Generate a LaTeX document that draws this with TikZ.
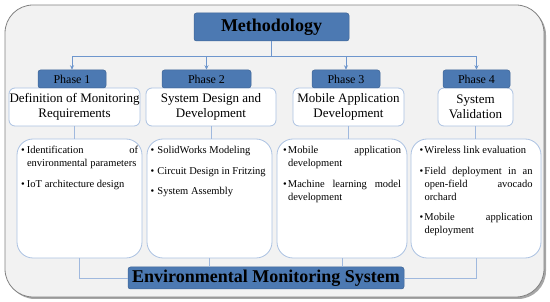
\documentclass[tikz,border=0pt]{standalone}
\usepackage{fontspec}
\setmainfont{Liberation Serif}
\usetikzlibrary{arrows.meta}
\definecolor{bluefill}{RGB}{76,121,178}
\definecolor{conn}{RGB}{110,150,205}
\definecolor{lightb}{RGB}{172,194,226}
\definecolor{outerfill}{RGB}{242,242,242}
\definecolor{outerdraw}{RGB}{130,130,130}
\newcommand{\bitem}[2]{\par\hangindent=#1\hangafter=1\noindent\makebox[#1][l]{\textbullet}#2}
\newcommand{\cbody}[2]{\parbox[c][104pt][t]{#1}{\fontsize{10.5}{13}\selectfont\hyphenpenalty=10000\exhyphenpenalty=10000\tolerance=9999\parskip=7.5pt\relax #2}}
\begin{document}
\begin{tikzpicture}[x=1pt,y=-1pt,
  bluebox/.style={draw=bluefill!85!black, line width=0.5pt, fill=bluefill, rounded corners=2.5pt, inner sep=0pt, text=black},
  titlebox/.style={draw=lightb, line width=0.8pt, fill=white, rounded corners=6pt, inner sep=0pt, align=center, font=\fontsize{13}{15}\selectfont},
  cbox/.style={draw=lightb, line width=0.8pt, fill=white, rounded corners=16pt, inner sep=0pt, align=justify},
  conline/.style={draw=conn, line width=0.9pt},
  lowline/.style={draw=lightb!80!conn, line width=0.9pt},
  arr/.style={conline, -{Stealth[length=4.5pt,width=4pt]}}
]
\useasboundingbox (0,0) rectangle (550,302);
% outer frame with shadow
\fill[black!35, rounded corners=28pt] (7,7) rectangle (546,299);
\draw[draw=outerdraw, fill=outerfill, line width=0.8pt, rounded corners=28pt] (5,5) rectangle (544,297);

% methodology
\node[bluebox, minimum width=155, minimum height=28, font=\fontsize{18}{20}\selectfont\bfseries] (meth) at (271.5,27) {Methodology};
\coordinate (bus) at (271.5,56);

% title boxes
\node[titlebox, minimum width=131, minimum height=38] (t1) at (74.5,107) {Definition of Monitoring\\Requirements};
\node[titlebox, minimum width=130, minimum height=38] (t2) at (211,107) {System Design and\\Development};
\node[titlebox, minimum width=111, minimum height=38] (t3) at (348.5,107) {Mobile Application\\Development};
\node[titlebox, minimum width=75, minimum height=38] (t4) at (475.5,107) {System\\Validation};

% phase boxes
\node[bluebox, minimum width=68, minimum height=18, font=\fontsize{12}{14}\selectfont] (p1) at (72,79) {Phase 1};
\node[bluebox, minimum width=89, minimum height=18, font=\fontsize{12}{14}\selectfont] (p2) at (206.5,79) {Phase 2};
\node[bluebox, minimum width=68, minimum height=18, font=\fontsize{12}{14}\selectfont] (p3) at (346,79) {Phase 3};
\node[bluebox, minimum width=67, minimum height=18, font=\fontsize{12}{14}\selectfont] (p4) at (476.5,79) {Phase 4};

% connectors from methodology
\draw[conline] (meth.south) -- (bus);
\draw[arr] (bus) -| (p1.north);
\draw[arr] (bus) -| (p2.north);
\draw[arr] (bus) -| (p3.north);
\draw[arr] (bus) -| (p4.north);

% content boxes
\node[cbox, minimum width=125, minimum height=119] (c1) at (79.5,198.5) {\cbody{117pt}{%
\bitem{6pt}{Identification of environmental parameters}
\bitem{6pt}{IoT architecture design}}};
\node[cbox, minimum width=125, minimum height=119] (c2) at (209.5,198.5) {\cbody{118pt}{\raggedright
\bitem{7pt}{SolidWorks Modeling}
\bitem{7pt}{Circuit Design in Fritzing}
\bitem{7pt}{System Assembly}}};
\node[cbox, minimum width=130, minimum height=119] (c3) at (342,198.5) {\cbody{118pt}{%
\bitem{5pt}{Mobile application development}
\bitem{5pt}{Machine learning model development}}};
\node[cbox, minimum width=130, minimum height=119] (c4) at (476,198.5) {\cbody{113pt}{%
\bitem{5pt}{Wireless link evaluation}
\bitem{5pt}{Field deployment in an\linebreak open-field avocado orchard}
\bitem{5pt}{Mobile application deployment}}};

% title to content connectors
\draw[lowline] (t1.south) -- (t1.south |- c1.north);
\draw[lowline] (t2.south) -- (t2.south |- c2.north);
\draw[lowline] (t3.south) -- (t3.south |- c3.north);
\draw[lowline] (t4.south) -- (t4.south |- c4.north);

% bottom box
\node[bluebox, minimum width=276, minimum height=22, font=\fontsize{18}{20}\selectfont\bfseries] (env) at (266,278) {Environmental Monitoring System};
\draw[lowline] (c1.south) |- (env.west);
\draw[lowline] (c4.south) |- (env.east);
\draw[lowline] (c2.south) -- (c2.south |- env.north);
\draw[lowline] (c3.south) -- (c3.south |- env.north);
\end{tikzpicture}
\end{document}
